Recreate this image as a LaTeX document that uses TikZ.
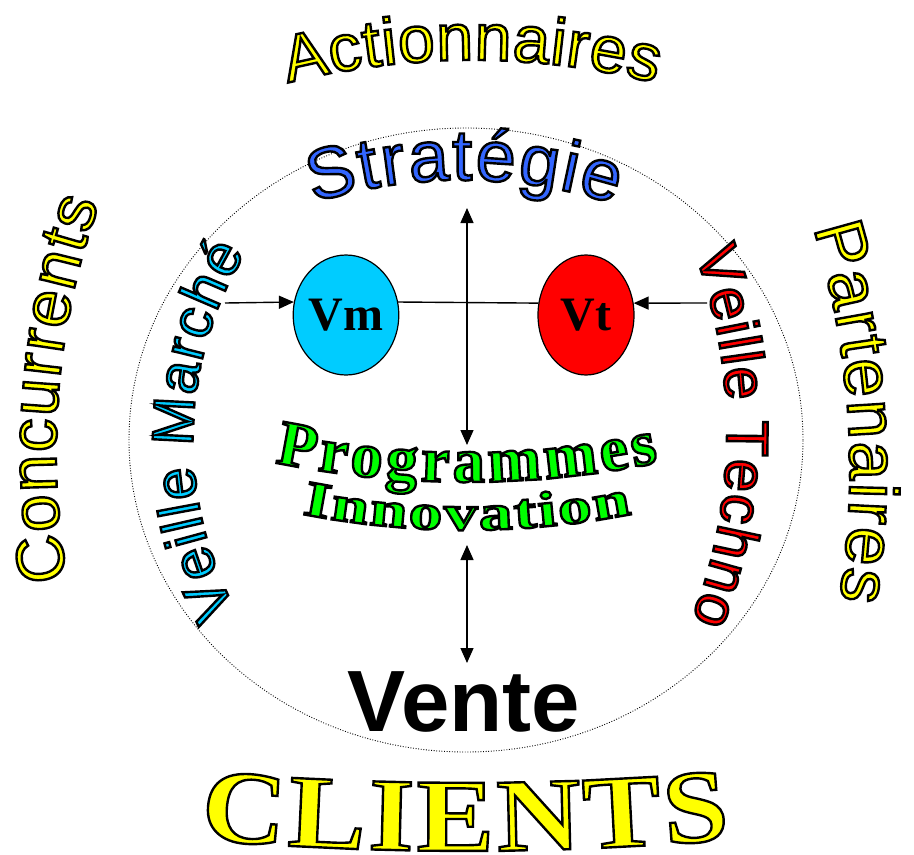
\documentclass[tikz,border=0pt]{standalone}
\usepackage{fontspec}
\usetikzlibrary{decorations.text,shapes.geometric,arrows.meta}
\newfontfamily\arialf{Liberation Sans}
\newfontfamily\timesf{Liberation Serif}
\newfontfamily\innovf{Liberation Serif}[FakeStretch=1.35]
\newfontfamily\clientsf{Liberation Serif}[FakeStretch=1.12]
\definecolor{ayellow}{RGB}{255,255,0}
\definecolor{sblue}{RGB}{51,102,255}
\definecolor{vmcyan}{RGB}{0,204,255}
\definecolor{vtred}{RGB}{255,0,0}
\definecolor{pgreen}{RGB}{0,255,0}
\newcommand\olk{\special{pdf:literal direct 0 G 2 Tr 2.4 w}}
% #1 centre, #2 radius, #3 start angle, #4 end angle, #5 format, #6 text
\newcommand\arctext[6]{\path[decorate,decoration={text along path,text align={fit to path},text={|#5|#6}}] (#1) ++(#3:#2) arc[start angle=#3,end angle=#4,radius=#2];}
\begin{document}
\begin{tikzpicture}[x=1pt,y=-1pt,
  conn/.style={line width=1.4pt,black},
  arrowto/.style={-{Triangle[length=15pt,width=13pt]}},
  botharrow/.style={{Triangle[length=15pt,width=13pt]}-{Triangle[length=15pt,width=13pt]}},
  vnode/.style={ellipse,draw=black,line width=1.2pt,minimum width=96pt,minimum height=120pt,inner sep=0pt,font=\timesf\bfseries\fontsize{48}{48}\selectfont}]
\useasboundingbox (0,0) rectangle (914,855);
\fill[white] (0,0) rectangle (914,855);
% dotted ring
\node[draw=black,ellipse,line width=0.9pt,dash pattern=on 0.9pt off 1.7pt,minimum width=674pt,minimum height=624pt,inner sep=0pt] (ring) at (466,440) {};
% outer texts
\arctext{472,810}{750}{-104.2}{-75.8}{\arialf\fontsize{66}{66}\selectfont\color{ayellow}\olk}{Actionnaires}
\arctext{796,452}{740}{170.04}{199.66}{\arialf\fontsize{67}{67}\selectfont\color{ayellow}\olk}{Concurrents}
\arctext{32,470}{818}{-17.2}{9.15}{\arialf\fontsize{69}{69}\selectfont\color{ayellow}\olk}{Partenaires}
\arctext{465,-2149}{3000}{95.07}{84.93}{\clientsf\bfseries\fontsize{104}{104}\selectfont\color{ayellow}\olk}{CLIENTS}
% inner texts
\arctext{462,680}{500}{-107.3}{-72.2}{\arialf\fontsize{72}{72}\selectfont\color{sblue}\olk}{Stratégie}
\arctext{554,440}{361}{151.9}{211.2}{\arialf\fontsize{58}{58}\selectfont\color{vmcyan}\olk}{Veille Marché}
\arctext{212,432}{515}{-20.34}{21.41}{\arialf\fontsize{59}{59}\selectfont\color{vtred}\olk}{Veille Techno}
\arctext{466,-468}{950}{101.6}{78.3}{\timesf\bfseries\fontsize{64}{64}\selectfont\color{pgreen}\olk}{Programmes}
\arctext{467,-329}{859}{101.07}{78.93}{\innovf\bfseries\fontsize{50}{50}\selectfont\color{pgreen}\olk}{Innovation}
\node[anchor=base,inner sep=0pt,font=\arialf\bfseries\fontsize{87}{87}\selectfont] (vente) at (464,731) {Vente};
% V nodes
\node[vnode,fill=vmcyan] (Vm) at (346,315) {Vm};
\node[vnode,fill=vtred] (Vt) at (586,315) {Vt};
% connectors
\coordinate (vmsrc) at (225,303);
\coordinate (vtsrc) at (707,303);
\coordinate (up) at (467,208);
\coordinate (down) at (467,445);
\coordinate (pa) at (467,545);
\coordinate (pb) at (467,663);
\draw[conn,arrowto] (vmsrc) -- (Vm.166);
\draw[conn,arrowto] (vtsrc) -- (Vt.14);
\draw[conn] (Vm.14) -- (Vt.166);
\draw[conn,botharrow] (up) -- (down);
\draw[conn,botharrow] (pa) -- (pb);
\end{tikzpicture}
\end{document}
